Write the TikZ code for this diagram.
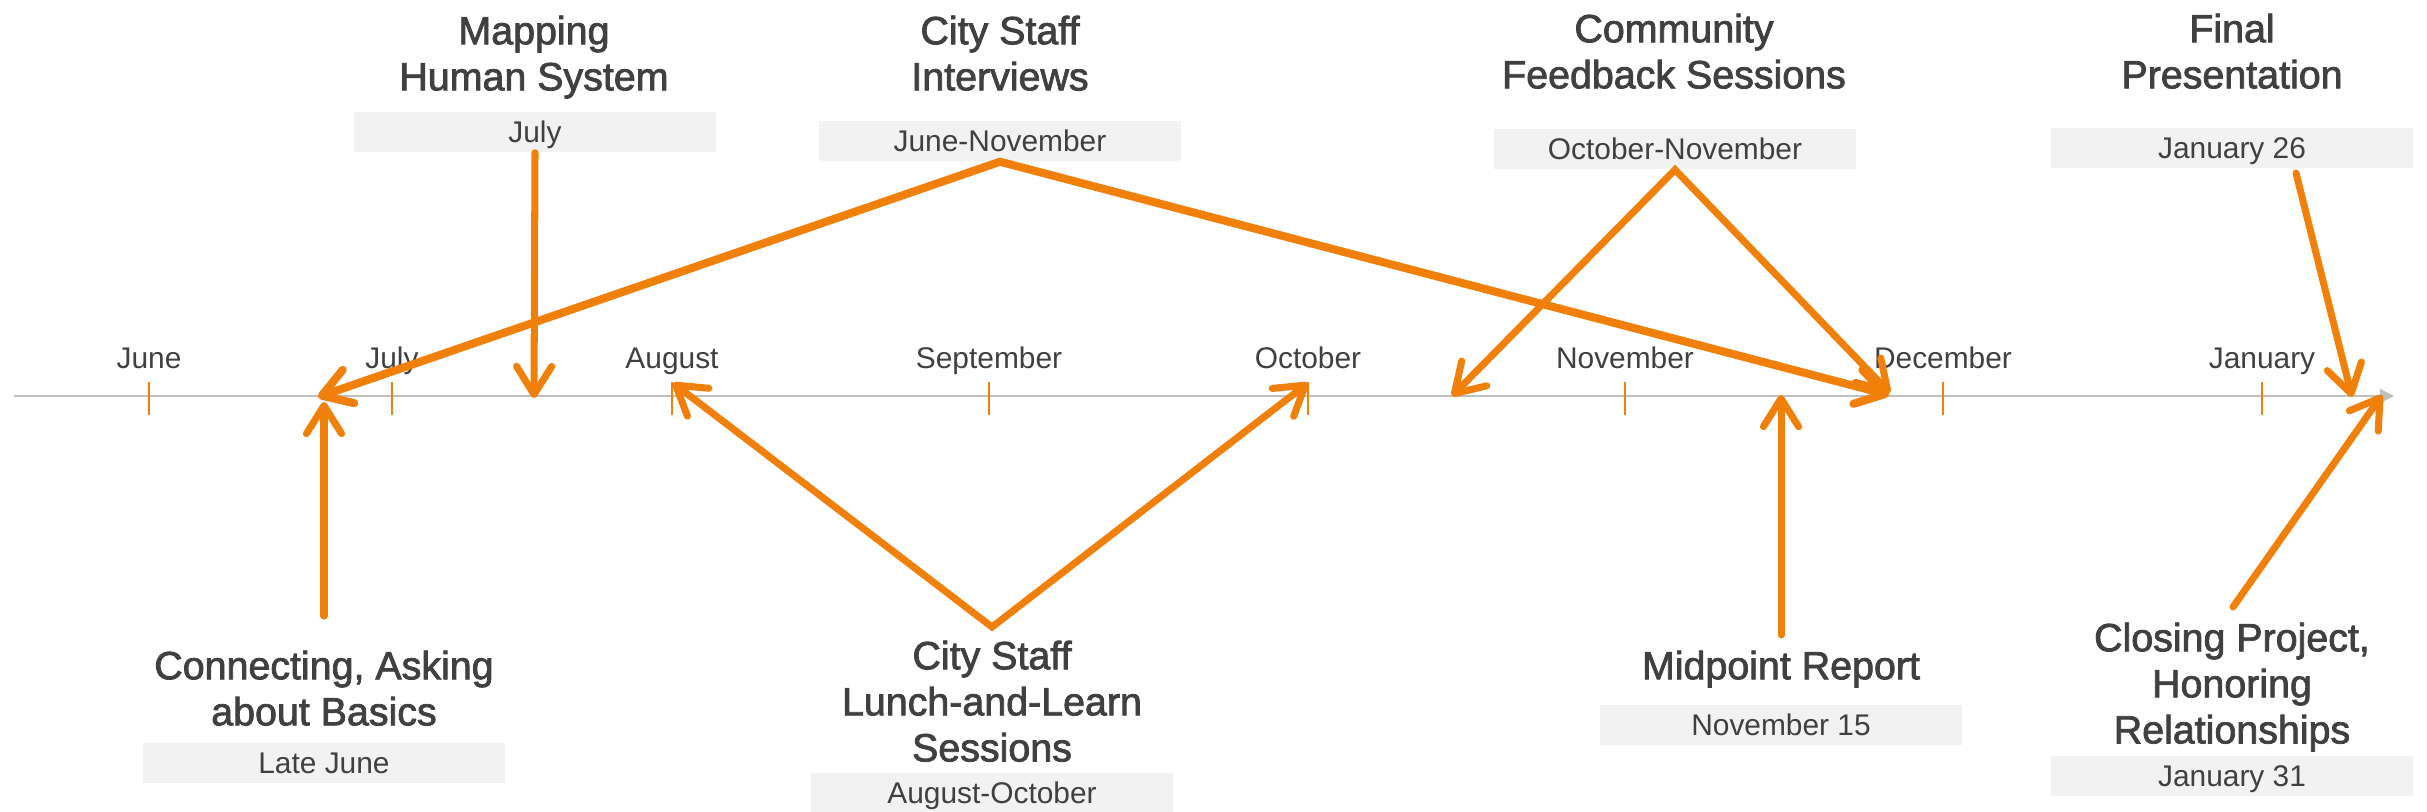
\documentclass[tikz,border=0pt]{standalone}
\usepackage{fontspec}
\setmainfont{Liberation Sans}
\newfontfamily\titlefont[FakeBold=2]{Liberation Sans}
\usetikzlibrary{arrows.meta}
\definecolor{tlorange}{RGB}{240,128,10}
\definecolor{tlaxis}{RGB}{191,191,191}
\definecolor{tltext}{RGB}{64,64,64}
\definecolor{tlbox}{RGB}{242,242,242}
\begin{document}
\begin{tikzpicture}[x=0.01cm,y=-0.01cm,
	>={Straight Barb[length=8pt,width=10pt,round]},
	title/.style={anchor=north,inner sep=0pt,align=center,text=tltext,font=\titlefont\fontsize{11.2}{13.1}\selectfont},
	datebox/.style={fill=tlbox,inner sep=0pt,minimum width=3.62cm,minimum height=0.4cm,text height=6.1pt,text depth=0pt,text=tltext,font=\fontsize{8.5}{10}\selectfont},
	month/.style={anchor=base,inner sep=0pt,text=tltext,font=\fontsize{8.5}{10}\selectfont},
	link/.style={draw=tlorange,line width=2pt,line cap=round}]
	\useasboundingbox (0,0) rectangle (2427,811);
	\coordinate (axisL) at (14,396);
	\coordinate (axisR) at (2394,396);
	\draw[tlaxis,line width=0.6pt,-{Triangle[length=4pt,width=4pt]}] (axisL) -- (axisR);
	\foreach \m/\x in {June/149, July/392, August/672, September/989, October/1308, November/1625, December/1943, January/2262}{
		\draw[tlorange,line width=0.4pt] (\x,382) -- (\x,415);
		\node[month] at (\x,368) {\m};
	}
	\node[title] at (534,15) (map) {Mapping\\Human System};
	\node[datebox] at (535,132) (mapdate) {July};
	\node[title] at (1000,15) (intv) {City Staff\\Interviews};
	\node[datebox] at (1000,141) (intvdate) {June-November};
	\node[title] at (1674,13) (comm) {Community\\Feedback Sessions};
	\node[datebox] at (1675,149) (commdate) {October-November};
	\node[title] at (2232,13) (fin) {Final\\Presentation};
	\node[datebox] at (2232,148) (findate) {January 26};
	\node[title] at (324,650) (conn) {Connecting, Asking\\about Basics};
	\node[datebox] at (324,763) (conndate) {Late June};
	\node[title] at (992,640) (lunch) {City Staff\\Lunch-and-Learn\\Sessions};
	\node[datebox] at (992,793) (lunchdate) {August-October};
	\node[title] at (1781,650) (mid) {Midpoint Report};
	\node[datebox] at (1781,725) (middate) {November 15};
	\node[title] at (2232,622) (clos) {Closing Project,\\Honoring\\Relationships};
	\node[datebox] at (2232,776) (closdate) {January 31};
	\coordinate (mapE) at (534,398);
	\coordinate (intvL) at (318,397);
	\coordinate (intvR) at (1889,395);
	\coordinate (commL) at (1452,396);
	\coordinate (commR) at (1890,393);
	\coordinate (finS) at (2296,173);
	\coordinate (finE) at (2352,397);
	\coordinate (connS) at (324,616);
	\coordinate (connE) at (324,402);
	\coordinate (lunchA) at (992,627);
	\coordinate (lunchL) at (673,383);
	\coordinate (lunchR) at (1308,383);
	\coordinate (midS) at (1781,635);
	\coordinate (midE) at (1781,395);
	\coordinate (closS) at (2233,607);
	\coordinate (closE) at (2382,395);
	\draw[link,->] (mapdate.south) -- (mapE);
	\draw[link,<->,line width=2.3pt] (intvL) -- (intvdate.south) -- (intvR);
	\draw[link,<->] (commL) -- (commdate.south) -- (commR);
	\draw[link,->] (finS) -- (finE);
	\draw[link,->] (connS) -- (connE);
	\draw[link,<->] (lunchL) -- (lunchA) -- (lunchR);
	\draw[link,->] (midS) -- (midE);
	\draw[link,->] (closS) -- (closE);
\end{tikzpicture}
\end{document}
